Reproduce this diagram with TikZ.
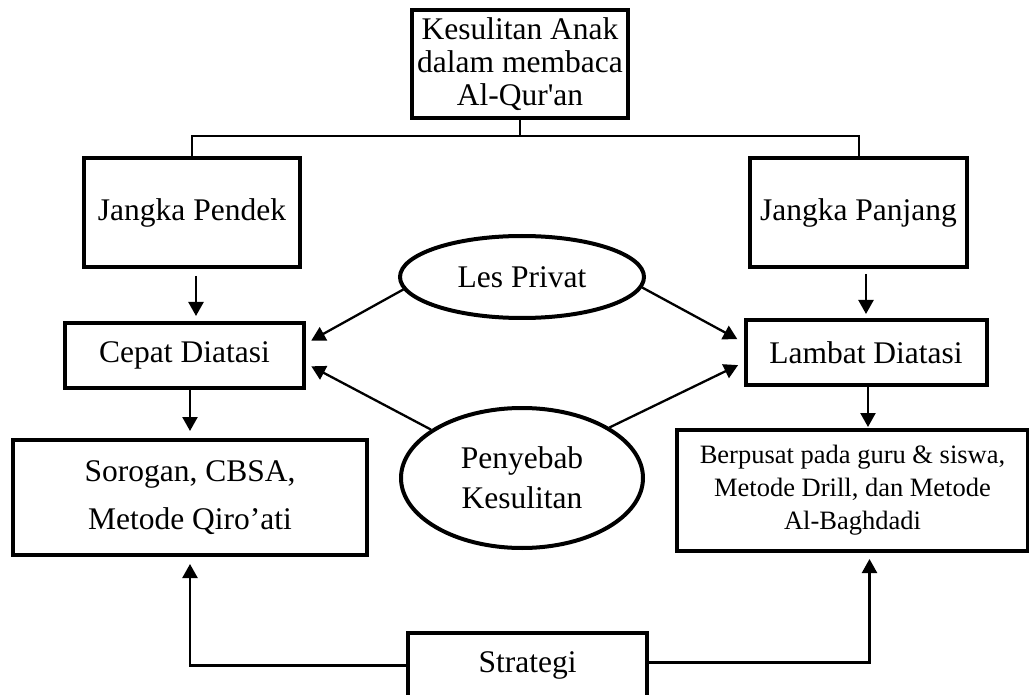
\documentclass[tikz,border=0pt]{standalone}
\usepackage{fontspec}
\setmainfont{Liberation Serif}
\usetikzlibrary{shapes.geometric,arrows.meta}

\begin{document}
\begin{tikzpicture}
  [x=1pt, y=-1pt,
   every node/.style={align=center, inner sep=0pt, font=\fontsize{31.5}{33}\selectfont},
   box/.style={draw, line width=4pt},
   oval/.style={draw, ellipse, line width=4pt},
%   link/.style={draw, thick},
   link/.style={line width=2pt},
   arr/.style={-{Triangle[length=14pt,width=15pt]}, line width=2.3pt}]
 \path[use as bounding box, clip] (0,0) rectangle (1029,695);
 % boxes
 \node[box, minimum width=216pt, minimum height=108pt] (masalah) at (520,64)
   {Kesulitan Anak\\dalam membaca\\Al-Qur\textquotesingle an};
 \node[box, minimum width=216pt, minimum height=109pt] (pendek) at (192,212.5) {Jangka Pendek};
 \node[box, minimum width=217pt, minimum height=109pt] (panjang) at (858.5,212.5) {Jangka Panjang};
 \node[box, minimum width=239pt, minimum height=65pt] (cepat) at (184.5,355.5) {Cepat Diatasi};
 \node[box, minimum width=241pt, minimum height=65pt] (lambat) at (866,352.5) {Lambat Diatasi};
 \node[box, minimum width=354pt, minimum height=115pt, font=\fontsize{31.5}{48}\selectfont]
   (sorogan) at (190,497.5) {Sorogan, CBSA,\\Metode Qiro’ati};
 \node[box, minimum width=351pt, minimum height=121pt, font=\fontsize{26.5}{33}\selectfont]
   (berpusat) at (852.5,490.5) {Berpusat pada guru \& siswa,\\Metode Drill, dan Metode\\Al-Baghdadi};
 \node[box, minimum width=239pt, minimum height=65pt] (strategi) at (527.5,665.5) {Strategi};
 % ovals
 \node[oval, minimum width=244pt, minimum height=82pt] (les) at (522,277) {Les Privat};
 \node[oval, minimum width=242pt, minimum height=140pt, font=\fontsize{31.5}{40}\selectfont]
   (sebab) at (522,478) {Penyebab\\Kesulitan};
 % tree
 \coordinate (cabang) at (520,136);
 \draw[link] (masalah.south) -- (cabang);
 \draw[link] (pendek.north) |- (cabang) -| (panjang.north);
 % arrows down
 \draw[arr, shorten <=7pt, shorten >=5pt] ([xshift=4pt]pendek.south) -- ([xshift=4pt]pendek.south |- cepat.north);
 \draw[arr, shorten <=5pt, shorten >=4pt] (lambat.north |- panjang.south) -- (lambat.north);
 \draw[arr, shorten >=7pt] (sorogan.north |- cepat.south) -- (sorogan.north);
 \draw[arr, shorten >=1pt] ([xshift=2pt]lambat.south) -- ([xshift=2pt]lambat.south |- berpusat.north);
 % arrows from ovals
 \draw[arr, shorten >=6pt] (les.186) -- ([yshift=12pt]cepat.east);
 \draw[arr, shorten >=7pt] (les.355) -- ([yshift=10pt]lambat.west);
 \draw[arr, shorten >=6pt] (sebab.152) -- ([yshift=-8pt]cepat.east);
 \draw[arr, shorten >=6pt] (sebab.30) -- ([yshift=-10pt]lambat.west);
 % strategi
 \draw[arr, shorten >=7pt] (strategi.west) -| (sorogan.south);
 \draw[arr, shorten >=6pt] ([yshift=3pt]strategi.east) -| ([xshift=17pt]berpusat.south);
\end{tikzpicture}
\end{document}
